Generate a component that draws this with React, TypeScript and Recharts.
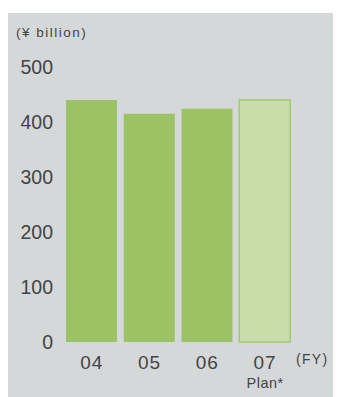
import { BarChart, Bar, XAxis, YAxis, Cell } from 'recharts';

// Fiscal years and net sales (¥ billion); FY07 is the plan figure
const years = ['04', '05', '06', '07'];
const notes = ['', '', '', 'Plan*'];
const sales = [440, 415, 424, 440];
const isPlan = [false, false, false, true];
const yTicks = [0, 100, 200, 300, 400, 500];

const data = years.map((year, i) => ({ year, note: notes[i], sales: sales[i], plan: isPlan[i] }));

const FONT = '"Liberation Sans", Arial, sans-serif';
const TEXT = '#444';
const BG = '#d5d8d9';

function YTick({ y, payload }: any) {
  return (
    <text x={45} y={y + 7} textAnchor="end" fontSize={19.5} fill={TEXT} fontFamily={FONT}>
      {payload.value}
    </text>
  );
}

function XTick({ x, y, payload, index }: any) {
  const note = notes[index];
  return (
    <g>
      <text x={x} y={y + 25} textAnchor="middle" fontSize={19} fill={TEXT} fontFamily={FONT} letterSpacing={1}>
        {payload.value}
      </text>
      {note ? (
        <text x={x} y={y + 44} textAnchor="middle" fontSize={14.5} fill={TEXT} fontFamily={FONT} letterSpacing={0.5}>
          {note}
        </text>
      ) : null}
    </g>
  );
}

export default function App() {
  return (
    <div style={{ position: 'relative', marginTop: 5, width: 332, height: 384, background: BG, fontFamily: FONT }}>
      <div style={{ position: 'absolute', left: 8, top: 12, fontSize: 13.5, color: TEXT, letterSpacing: 1.5, whiteSpace: 'nowrap' }}>
        (¥ billion)
      </div>
      <div style={{ position: 'absolute', left: 288, top: 338, fontSize: 14, color: TEXT, letterSpacing: 1.3, whiteSpace: 'nowrap' }}>
        (FY)
      </div>
      <BarChart width={332} height={384} data={data} margin={{ top: 54, right: 46, bottom: 0, left: 0 }}>
        <YAxis
          domain={[0, 500]}
          ticks={yTicks}
          width={55}
          axisLine={false}
          tickLine={false}
          tick={<YTick />}
        />
        <XAxis
          dataKey="year"
          height={55}
          axisLine={false}
          tickLine={false}
          tickSize={0}
          tick={<XTick />}
        />
        <Bar dataKey="sales" barSize={51} isAnimationActive={false}>
          {data.map((d) => (
            <Cell
              key={d.year}
              fill={d.plan ? '#c9ddab' : '#9bc264'}
              stroke={d.plan ? '#a4c870' : 'none'}
              strokeWidth={d.plan ? 1.5 : 0}
            />
          ))}
        </Bar>
      </BarChart>
    </div>
  );
}
